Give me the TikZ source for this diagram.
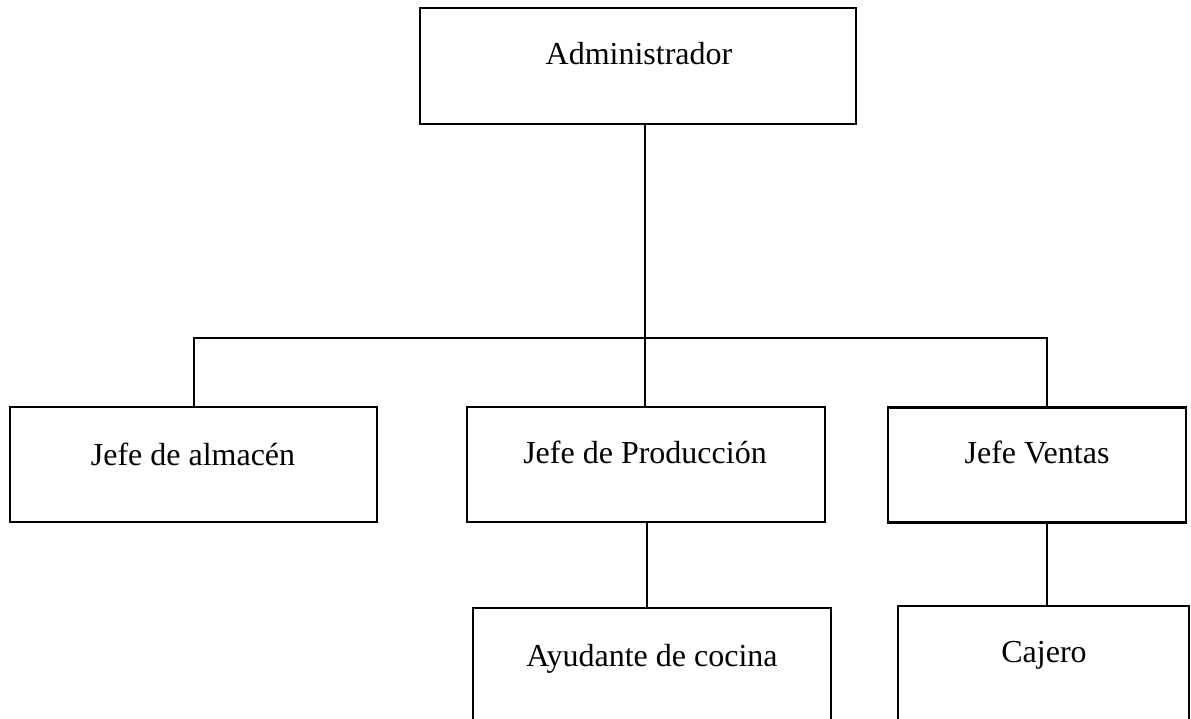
\documentclass[tikz,border=0pt]{standalone}
\usepackage{fontspec}
\setmainfont{Liberation Serif}
\begin{document}
\begin{tikzpicture}[x=1pt,y=-1pt,
  box/.style={draw=black, line width=2.6pt, rectangle, inner sep=0pt, outer sep=0pt},
  lbl/.style={anchor=base, inner sep=0pt, font=\fontsize{32}{38}\selectfont},
  conn/.style={draw=black, line width=2.6pt}]
\useasboundingbox (0,0) rectangle (1191,719);
\clip (0,0) rectangle (1191,719);
% boxes
\node[box, minimum width=436pt, minimum height=116pt] (adm) at (638,66) {};
\node[lbl] (admt) at (639,65) {Administrador};
\node[box, minimum width=367pt, minimum height=115pt] (alm) at (193.5,464.5) {};
\node[lbl] (almt) at (193,465) {Jefe de almacén};
\node[box, minimum width=358pt, minimum height=115pt] (prod) at (646,464.5) {};
\node[lbl] (prodt) at (645,463) {Jefe de Producción};
\node[box, minimum width=298pt, minimum height=115pt] (ven) at (1037,465) {};
\node[lbl] (vent) at (1037,463) {Jefe Ventas};
\node[box, minimum width=358pt, minimum height=130pt] (ayu) at (652,673) {};
\node[lbl] (ayut) at (652,666) {Ayudante de cocina};
\node[box, minimum width=291pt, minimum height=130pt] (caj) at (1043.5,671) {};
\node[lbl] (cajt) at (1044,662) {Cajero};
% junctions
\coordinate (j) at (645,338);
\coordinate (jL) at (194,338);
\coordinate (jR) at (1047,338);
\coordinate (pc) at (647,0);
% connectors
\draw[conn, line cap=rect] (jL) -- (jR);
\draw[conn] (adm.south -| j) -- (j);
\draw[conn] (j) -- (prod.north -| j);
\draw[conn] (jL) -- (alm.north -| jL);
\draw[conn] (jR) -- (ven.north -| jR);
\draw[conn] (prod.south -| pc) -- (ayu.north -| pc);
\draw[conn] (ven.south -| jR) -- (caj.north -| jR);
\end{tikzpicture}
\end{document}
